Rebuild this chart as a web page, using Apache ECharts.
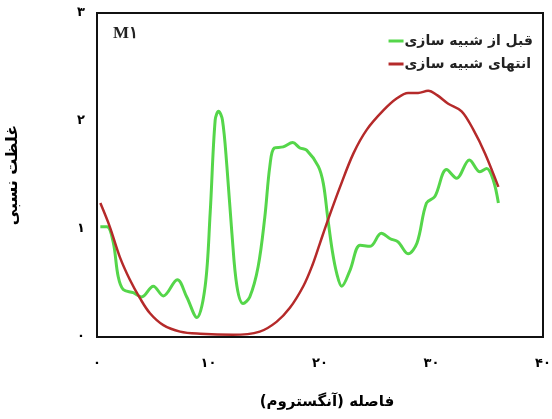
<!DOCTYPE html>
<html>
<head>
<meta charset="utf-8">
<script src="https://cdn.jsdelivr.net/npm/echarts@6/dist/echarts.min.js"></script>
<style>
  html, body { margin: 0; padding: 0; background: #fff; }
  #chart { width: 552px; height: 419px; }
</style>
</head>
<body>
<div id="chart"></div>
<script>
// Relative concentration profiles along the distance axis (Å)
const beforeX = [0.3, 0.9, 1.45, 1.9, 2.35, 3.25, 4.0, 5.05, 5.95, 7.2, 8.05, 8.95, 9.7, 10.15, 10.6, 10.9, 11.25, 11.65, 12.1, 12.55, 13.1, 13.7, 14.45, 15.05, 15.5, 15.9, 16.7, 17.55, 18.2, 18.8, 19.85, 20.3, 20.7, 21.1, 21.5, 21.95, 22.7, 23.6, 24.5, 25.5, 26.3, 27.0, 27.9, 28.7, 29.55, 30.3, 31.35, 32.25, 33.4, 34.35, 34.95, 35.55, 36.0];
const beforeY = [1.02, 1.02, 0.88, 0.56, 0.44, 0.41, 0.37, 0.47, 0.38, 0.53, 0.37, 0.18, 0.47, 1.15, 2.01, 2.09, 2.01, 1.58, 0.96, 0.47, 0.31, 0.37, 0.65, 1.11, 1.58, 1.75, 1.76, 1.80, 1.75, 1.73, 1.58, 1.42, 1.10, 0.80, 0.59, 0.47, 0.62, 0.85, 0.84, 0.96, 0.91, 0.88, 0.77, 0.87, 1.24, 1.30, 1.55, 1.47, 1.64, 1.53, 1.56, 1.45, 1.24];

const afterX = [0.3, 1.15, 2.05, 2.95, 3.85, 4.75, 5.95, 7.45, 9.25, 12.2, 14.6, 16.1, 17.3, 18.5, 19.3, 20.0, 20.7, 21.8, 23.0, 24.2, 25.7, 26.9, 27.9, 28.8, 29.7, 30.5, 31.5, 32.7, 33.75, 34.8, 36.0];
const afterY = [1.24, 1.02, 0.74, 0.53, 0.36, 0.22, 0.11, 0.05, 0.03, 0.02, 0.05, 0.14, 0.27, 0.47, 0.66, 0.87, 1.08, 1.39, 1.70, 1.92, 2.10, 2.21, 2.26, 2.26, 2.28, 2.24, 2.16, 2.09, 1.92, 1.70, 1.39];

const seriesNames = ['قبل از شبیه سازی', 'انتهای شبیه سازی'];
const xTickLabels = ['۰', '۱۰', '۲۰', '۳۰', '۴۰'];
const yTickLabels = ['۰', '۱', '۲', '۳'];

const pairs = (xs, ys) => xs.map((x, i) => [x, ys[i]]);
const FONT = "'DejaVu Sans', sans-serif";

const chart = echarts.init(document.getElementById('chart'));
chart.setOption({
  animation: false,
  backgroundColor: '#fff',
  grid: {
    left: 97, right: 9, top: 13, bottom: 82,
    containLabel: false, outerBoundsMode: 'none',
    show: true, borderColor: '#111', borderWidth: 2
  },
  xAxis: {
    type: 'value', min: 0, max: 40, interval: 10,
    axisLine: { show: false }, axisTick: { show: false }, splitLine: { show: false },
    axisLabel: {
      margin: 20, color: '#000', fontFamily: FONT, fontWeight: 'bold', fontSize: 13,
      formatter: v => xTickLabels[Math.round(v / 10)]
    },
    name: 'فاصله (آنگستروم)', nameLocation: 'middle', nameGap: 58,
    nameTextStyle: { color: '#000', fontFamily: FONT, fontWeight: 'bold', fontSize: 15, padding: [0, 0, 0, 14] }
  },
  yAxis: {
    type: 'value', min: 0, max: 3, interval: 1,
    axisLine: { show: false }, axisTick: { show: false }, splitLine: { show: false },
    axisLabel: {
      margin: 12, color: '#000', fontFamily: FONT, fontWeight: 'bold', fontSize: 13,
      padding: [6, 0, 0, 0],
      formatter: v => yTickLabels[Math.round(v)]
    },
    name: 'غلظت نسبی', nameLocation: 'middle', nameGap: 76, nameRotate: 90,
    nameTextStyle: { color: '#000', fontFamily: FONT, fontWeight: 'bold', fontSize: 16 }
  },
  legend: {
    orient: 'vertical', right: 14, top: 29, itemGap: 9,
    itemWidth: 15, itemHeight: 3, icon: 'rect',
    textStyle: { color: '#222', fontFamily: FONT, fontWeight: 'bold', fontSize: 14, padding: [0, 0, 0, -4] },
    data: seriesNames
  },
  graphic: [{
    type: 'text', left: 113, top: 25,
    style: { text: 'M۱', fill: '#222', font: "bold 17px 'Liberation Serif', serif" }
  }],
  series: [
    {
      name: seriesNames[0], type: 'line', smooth: 0.35, symbol: 'none',
      lineStyle: { color: '#55d64a', width: 3 }, itemStyle: { color: '#55d64a' },
      data: pairs(beforeX, beforeY)
    },
    {
      name: seriesNames[1], type: 'line', smooth: 0.35, symbol: 'none',
      lineStyle: { color: '#b52a2a', width: 2.5 }, itemStyle: { color: '#b52a2a' },
      data: pairs(afterX, afterY)
    }
  ]
});
</script>
</body>
</html>
